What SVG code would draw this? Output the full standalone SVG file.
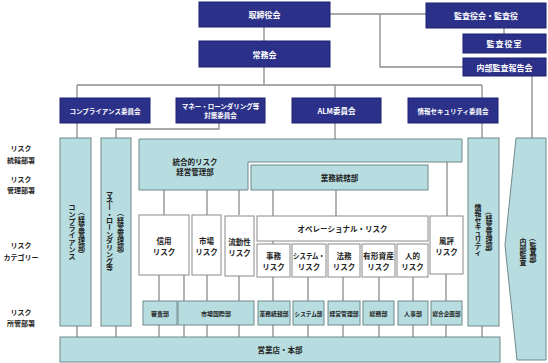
<svg xmlns="http://www.w3.org/2000/svg" width="548" height="363" viewBox="0 0 548 363">
<style>
text{font-family:"Noto Sans CJK JP","Noto Sans",sans-serif;text-anchor:middle;dominant-baseline:central;font-weight:bold;}
.navy{fill:#2b3189;stroke:#1c2170;stroke-width:1;}
.teal{fill:#b7dde0;stroke:#6f8a8c;stroke-width:1;}
.white{fill:#fff;stroke:#8a8a8a;stroke-width:1;}
.wt{fill:#fff;}
.bk{fill:#222;}
.t8{font-size:8px;}
.t75{font-size:7.5px;}
.t7{font-size:7px;}
.t65{font-size:6.5px;}
.t6{font-size:6px;}
.vc{font-size:7px;fill:#222;}
#connectors{fill:none;stroke:#8c8c8c;stroke-width:1.3;}
</style>
<rect width="548" height="363" fill="#fff"/>
<g id="connectors">
<path d="M264,27V41"/>
<path d="M330,14H426"/>
<path d="M380,14V67H463"/>
<path d="M504,28V34"/>
<path d="M264,67V85"/>
<path d="M77,85H482"/>
<path d="M77,85V98M219,85V98M335,85V98M482,85V98"/>
<path d="M77,123V138"/>
<path d="M219,123V129H116V138"/>
<path d="M335,123V139"/>
<path d="M482,123V138"/>
<path d="M532,76V138"/>
<path d="M164,190V215M207,190V215M239,190V215"/>
<path d="M447,162V216"/>
<path d="M273,190V216M336,190V216"/>
<path d="M273,241V244"/>
<path d="M159,275V301M184,275V301M207,275V301M239,276V301"/>
<path d="M273,277V301M308,277V301M343,277V301M379,277V301M413,277V301M446,274V301"/>
<path d="M77,326V337M116,326V337M159,325V337M184,325V337M207,325V337M239,325V337M273,325V337M308,325V337M343,325V337M379,325V337M413,325V337M446,325V337M482,326V337"/>
</g>
<g id="labels">
<text class="bk t7" x="21" y="148">リスク</text>
<text class="bk t7" x="21" y="160">統轄部署</text>
<text class="bk t7" x="21" y="179">リスク</text>
<text class="bk t7" x="21" y="190">管理部署</text>
<text class="bk t7" x="21" y="245">リスク</text>
<text class="bk t7" x="21" y="257">カテゴリー</text>
<text class="bk t7" x="21" y="312">リスク</text>
<text class="bk t7" x="21" y="323">所管部署</text>
</g>
<g id="torishimariyakukai"><rect class="navy" x="199" y="2" width="131" height="25"/><text class="wt t8" x="264.5" y="14.5">取締役会</text></g>
<g id="jomukai"><rect class="navy" x="199" y="41" width="131" height="26"/><text class="wt t8" x="264.5" y="54">常務会</text></g>
<g id="kansayakukai"><rect class="navy" x="426" y="3" width="120" height="25"/><text class="wt t8" x="486" y="15.5">監査役会・監査役</text></g>
<g id="kansayakushitsu"><rect class="navy" x="463" y="34" width="83" height="19"/><text class="wt t8" x="504.5" y="43.5" letter-spacing="1">監査役室</text></g>
<g id="naibukansahokokukai"><rect class="navy" x="463" y="58" width="83" height="18"/><text class="wt t8" x="504.5" y="67">内部監査報告会</text></g>
<g id="compliance-iinkai"><rect class="navy" x="60" y="98" width="90" height="25"/><text class="wt t65" x="105" y="110.5">コンプライアンス委員会</text></g>
<g id="ml-iinkai"><rect class="navy" x="176" y="98" width="89" height="25"/><text class="wt t65" x="220.5" y="106">マネー・ローンダリング等</text><text class="wt t65" x="220.5" y="115">対策委員会</text></g>
<g id="alm-iinkai"><rect class="navy" x="292" y="98" width="89" height="25"/><text class="wt t75" x="336.5" y="110.5">ALM委員会</text></g>
<g id="security-iinkai"><rect class="navy" x="408" y="98" width="90" height="25"/><text class="wt t65" x="453" y="110.5">情報セキュリティ委員会</text></g>
<g id="compliance"><rect class="teal" x="60" y="138" width="31" height="188"/>
<text class="vc" x="72 72 72 72 72 72 72 72" y="206.5 213.5 220.5 227.5 234.5 241.5 248.5 255.5">コンプライアンス</text>
<text class="vc" x="81.5" y="212" transform="rotate(90 81.5 212)">（</text>
<text class="vc" x="81.5 81.5 81.5 81.5 81.5" y="219 226 233 240 247">経営管理部</text>
<text class="vc" x="81.5" y="254" transform="rotate(90 81.5 254)">）</text>
</g>
<g id="ml"><rect class="teal" x="101" y="138" width="30" height="188"/>
<text class="vc" x="109.5 109.5" y="193.5 200.2">マネ</text>
<text class="vc" x="109.5" y="206.9" transform="rotate(90 109.5 206.9)">ー</text>
<text class="vc" x="109.5 109.5" y="213.6 220.3">・ロ</text>
<text class="vc" x="109.5" y="227" transform="rotate(90 109.5 227)">ー</text>
<text class="vc" x="109.5 109.5 109.5 109.5 109.5 109.5" y="233.7 240.4 247.1 253.8 260.5 267.2">ンダリング等</text>
<text class="vc" x="120.5" y="213" transform="rotate(90 120.5 213)">（</text>
<text class="vc" x="120.5 120.5 120.5 120.5 120.5" y="219.8 226.6 233.4 240.2 247">経営管理部</text>
<text class="vc" x="120.5" y="253.8" transform="rotate(90 120.5 253.8)">）</text>
</g>
<g id="togoteki"><path class="teal" d="M139,139H462V162H248V190H139Z"/><text class="bk t75" x="195" y="161">統合的リスク</text><text class="bk t75" x="195" y="171">経営管理部</text></g>
<g id="gyomutokatsubu"><rect class="teal" x="251" y="165" width="177" height="25"/><text class="bk t75" x="339.5" y="177.5">業務統轄部</text></g>
<g id="security"><rect class="teal" x="468" y="138" width="31" height="188"/>
<text class="vc" x="478 478 478 478 478 478 478 478" y="206.5 213 219.5 226 232.5 239 245.5 252">情報セキュリティ</text>
<text class="vc" x="489" y="211.5" transform="rotate(90 489 211.5)">（</text>
<text class="vc" x="489 489 489 489 489" y="218.3 225.1 231.9 238.7 245.5">経営管理部</text>
<text class="vc" x="489" y="252.3" transform="rotate(90 489 252.3)">）</text>
</g>
<g id="naibukansa"><path class="teal" d="M516,138H546V360H517L505,245Z"/>
<text class="vc" x="523 523 523 523" y="240.5 247.5 254.5 261.5">内部監査</text>
<text class="vc" x="533" y="238" transform="rotate(90 533 238)">（</text>
<text class="vc" x="533 533 533" y="244.5 251 257.5">監査部</text>
<text class="vc" x="533" y="264" transform="rotate(90 533 264)">）</text>
</g>
<g id="shinyo"><rect class="white" x="139" y="215" width="50" height="60"/><text class="bk t75" x="164" y="240">信用</text><text class="bk t75" x="164" y="251">リスク</text></g>
<g id="shijo"><rect class="white" x="192" y="215" width="29" height="60"/><text class="bk t75" x="206.5" y="240">市場</text><text class="bk t75" x="206.5" y="251">リスク</text></g>
<g id="ryudosei"><rect class="white" x="225" y="216" width="29" height="60"/><text class="bk t75" x="239.5" y="241">流動性</text><text class="bk t75" x="239.5" y="252">リスク</text></g>
<g id="operational"><rect class="white" x="257" y="216" width="171" height="25"/><text class="bk t75" x="342.5" y="228.5">オペレーショナル・リスク</text></g>
<g id="fuhyo"><rect class="white" x="430" y="216" width="33" height="58"/><text class="bk t75" x="446.5" y="240">風評</text><text class="bk t75" x="446.5" y="251">リスク</text></g>
<g id="jimu"><rect class="white" x="257" y="244" width="33" height="33"/><text class="bk t75" x="273.5" y="255">事務</text><text class="bk t75" x="273.5" y="266">リスク</text></g>
<g id="system"><rect class="white" x="292" y="244" width="34" height="33"/><text class="bk t75" x="309" y="255" textLength="32" lengthAdjust="spacingAndGlyphs">システム・</text><text class="bk t75" x="309" y="266">リスク</text></g>
<g id="homu"><rect class="white" x="328" y="244" width="32" height="33"/><text class="bk t75" x="344" y="255">法務</text><text class="bk t75" x="344" y="266">リスク</text></g>
<g id="yukeishisan"><rect class="white" x="362" y="244" width="33" height="33"/><text class="bk t75" x="378.5" y="255" textLength="31" lengthAdjust="spacingAndGlyphs">有形資産</text><text class="bk t75" x="378.5" y="266">リスク</text></g>
<g id="jinteki"><rect class="white" x="397" y="244" width="31" height="33"/><text class="bk t75" x="412.5" y="255">人的</text><text class="bk t75" x="412.5" y="266">リスク</text></g>
<g id="shinsabu"><rect class="teal" x="143" y="301" width="34" height="24"/><text class="bk t6" x="160" y="313">審査部</text></g>
<g id="shijokokusaibu"><rect class="teal" x="178" y="301" width="76" height="24"/><text class="bk t6" x="216" y="313">市場国際部</text></g>
<g id="gyomutokatsubu2"><rect class="teal" x="258" y="301" width="32" height="24"/><text class="bk t6" x="274" y="313" textLength="29" lengthAdjust="spacingAndGlyphs">業務統轄部</text></g>
<g id="systembu"><rect class="teal" x="293" y="301" width="31" height="24"/><text class="bk t6" x="308.5" y="313" textLength="28" lengthAdjust="spacingAndGlyphs">システム部</text></g>
<g id="keieikanribu"><rect class="teal" x="328" y="301" width="32" height="24"/><text class="bk t6" x="344" y="313" textLength="29" lengthAdjust="spacingAndGlyphs">経営管理部</text></g>
<g id="somubu"><rect class="teal" x="363" y="301" width="31" height="24"/><text class="bk t6" x="378.5" y="313">総務部</text></g>
<g id="jinjibu"><rect class="teal" x="398" y="301" width="30" height="24"/><text class="bk t6" x="413" y="313">人事部</text></g>
<g id="sogokikakubu"><rect class="teal" x="431" y="301" width="31" height="24"/><text class="bk t6" x="446.5" y="313" textLength="28" lengthAdjust="spacingAndGlyphs">総合企画部</text></g>
<g id="eigyoten"><rect class="teal" x="60" y="337" width="440" height="25"/><text class="bk t75" x="280" y="349.5">営業店・本部</text></g>
</svg>
